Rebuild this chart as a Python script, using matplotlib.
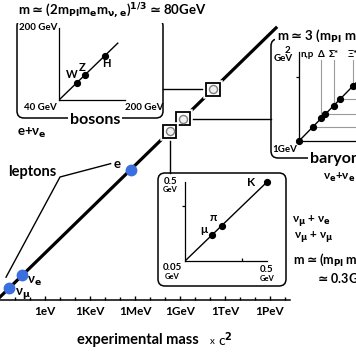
import matplotlib
matplotlib.use('Agg')
import matplotlib.pyplot as plt
from matplotlib.patches import FancyBboxPatch
from matplotlib.ticker import FixedLocator, NullLocator, NullFormatter
import matplotlib.patheffects as pe

# ---------------- data ----------------
axis_ticks_eV = [1, 1e3, 1e6, 1e9, 1e12, 1e15]
axis_tick_labels = ['1eV', '1KeV', '1MeV', '1GeV', '1TeV', '1PeV']
decade_ticks_eV = [1e-2, 1e-1, 1e1, 1e2, 1e4, 1e5, 1e7, 1e8, 1e10, 1e11, 1e13, 1e14, 1e16]
diagonal_eV = [3e-4, 3e15]
lepton_labels = ['e', r'ν$_e$', r'ν$_μ$']
lepton_mass_eV = [5.11e5, 0.03, 0.004]
group_mass_eV = [1.6e11, 1.6e9, 2.1e8]          # bosons, baryons, mesons markers
boson_labels = ['W', 'Z', 'H']
boson_mass_GeV = [80.4, 91.2, 125.0]
boson_line_GeV = [60.4, 153.0]
meson_labels = ['μ', 'π', 'K']
meson_mass_GeV = [0.1057, 0.1396, 0.494]
meson_line_GeV = [0.05, 0.494]
baryon_top_tags = ['n,p', '', 'Δ', '', 'Σ*', '', 'Ξ*']
baryon_mass_GeV = [1.0, 1.116, 1.193, 1.232, 1.318, 1.385, 1.533]
baryon_line_GeV = [1.0, 1.8]

BLUE = '#3b6fe0'
GRAY = '#9a9a9a'

plt.rcParams['font.family'] = ['Lato', 'DejaVu Sans']
plt.rcParams['font.weight'] = 'bold'
plt.rcParams['mathtext.fontset'] = 'dejavusans'
plt.rcParams['mathtext.default'] = 'bf'

W, H = 356, 364
fig = plt.figure(figsize=(W / 100, H / 100), dpi=100)
bg = fig.add_axes([0, 0, 1, 1])
bg.set_xlim(0, W)
bg.set_ylim(H, 0)
bg.axis('off')


def rect(x0, y0, x1, y1):
    return [x0 / W, 1 - y1 / H, (x1 - x0) / W, (y1 - y0) / H]


def to_px(a, x, y):
    d = a.transData.transform((x, y))
    return d[0], H - d[1]


# ---------------- main axis ----------------
ax = fig.add_axes(rect(0, 0, 290, 300))
ax.patch.set_alpha(0)
ax.set_xscale('log')
ax.set_yscale('log')
ax.set_xlim(10 ** -3, 10 ** (-3 + 290 / 15))
ax.set_ylim(10 ** -3.205, 10 ** 17.308)
for s in ['top', 'right', 'left']:
    ax.spines[s].set_visible(False)
ax.spines['bottom'].set_linewidth(1.1)
ax.yaxis.set_major_locator(NullLocator())
ax.yaxis.set_minor_locator(NullLocator())
ax.xaxis.set_major_locator(FixedLocator(axis_ticks_eV))
ax.set_xticklabels(axis_tick_labels)
ax.xaxis.set_minor_locator(FixedLocator(decade_ticks_eV))
ax.xaxis.set_minor_formatter(NullFormatter())
ax.tick_params(axis='x', which='major', direction='in', length=3, width=1,
               labelsize=8.5, pad=4)
ax.tick_params(axis='x', which='minor', direction='in', length=2.5, width=1)

ax.plot(diagonal_eV, diagonal_eV, color='black', lw=2.3, solid_capstyle='butt', zorder=2)
ax.plot(group_mass_eV, group_mass_eV, 's', ms=9.5, mfc='white', mec='black', mew=1.3,
        zorder=3, path_effects=[pe.withStroke(linewidth=4, foreground='white')])
ax.plot(group_mass_eV, group_mass_eV, 'o', ms=5.8, mfc='#f2f2f2', mec='#808080', mew=1,
        zorder=4)
ax.plot(lepton_mass_eV, lepton_mass_eV, 'o', ms=7.5, color=BLUE, zorder=5)
lep_offsets = [(-10, 4), (9, -4.5), (10, -4)]
for lab, m, off in zip(lepton_labels, lepton_mass_eV, lep_offsets):
    ax.annotate(lab, (m, m), xytext=off, textcoords='offset points',
                ha='center', va='center', fontsize=9.5, fontweight='bold')

# pixel positions of group markers
s_bos = to_px(ax, group_mass_eV[0], group_mass_eV[0])
s_bar = to_px(ax, group_mass_eV[1], group_mass_eV[1])
s_mes = to_px(ax, group_mass_eV[2], group_mass_eV[2])
e_px = to_px(ax, lepton_mass_eV[0], lepton_mass_eV[0])
nm_px = to_px(ax, lepton_mass_eV[2], lepton_mass_eV[2])

# ---------------- boxes & connectors ----------------
box_kw = dict(boxstyle='round,pad=0,rounding_size=7', fc='none', ec='black', lw=1.1)
bg.add_patch(FancyBboxPatch((17, 19), 146, 99, **box_kw))
bg.add_patch(FancyBboxPatch((271, 39), 150, 119, **box_kw))
bg.add_patch(FancyBboxPatch((158, 173), 128, 113, **box_kw))
bg.plot([163, s_bos[0] - 7], [s_bos[1], s_bos[1]], color='black', lw=1)
bg.plot([s_bar[0] + 7, 271], [s_bar[1], s_bar[1]], color='black', lw=1)
bg.plot([s_mes[0], s_mes[0]], [s_mes[1] + 7, 173], color='black', lw=1)
# leptons leader lines
bg.plot([e_px[0] - 20, 60, nm_px[0] - 3], [e_px[1] - 6, 177, nm_px[1] - 11],
        color='black', lw=1)

wb = dict(fc='white', ec='none', pad=1.5)
bg.text(18, 11, r'm$\simeq$(2m$_{Pl}$m$_{e}$m$_{ν,e}$)$^{1/3}$$\simeq$80GeV', fontsize=9.5,
        ha='left', va='center', bbox=wb)
bg.text(95, 120, 'bosons', fontsize=11.5, ha='center', va='center', bbox=wb)
bg.text(17, 133, r'e+ν$_e$', fontsize=9.5, ha='left', va='center')
bg.text(8, 172, 'leptons', fontsize=10.5, ha='left', va='center')
bg.text(277, 37, r'm$\simeq$3 (m$_{Pl}$ m$_{ν,e}$$^{2}$)$^{1/3}$$\simeq$1GeV', fontsize=9.5,
        ha='left', va='center', bbox=wb)
bg.text(310, 159, 'baryons', fontsize=11.5, ha='left', va='center', bbox=wb)
bg.text(323, 177, r'ν$_e$+ν$_e$', fontsize=8.5, ha='left', va='center')
bg.text(292, 221, r'ν$_μ$ + ν$_e$', fontsize=8.5, ha='left', va='center')
bg.text(294, 237, r'ν$_μ$ + ν$_μ$', fontsize=8.5, ha='left', va='center')
bg.text(293, 262, r'm$\simeq$(m$_{Pl}$ m$_{ν,e}$m$_{ν,μ}$)$^{1/3}$', fontsize=9,
        ha='left', va='center')
bg.text(315, 278, r'$\simeq$0.3GeV', fontsize=9, ha='left', va='center')
bg.text(77, 340, 'experimental mass', fontsize=10.5, ha='left', va='center')
bg.text(210, 342, 'x', fontsize=7, fontweight='normal', ha='left', va='center')
bg.text(218, 340, r'c$^{2}$', fontsize=10, fontweight='normal', ha='left', va='center')


def style_inset(a):
    a.patch.set_alpha(0)
    a.set_xscale('log')
    a.set_yscale('log')
    for s in ['top', 'right']:
        a.spines[s].set_visible(False)
    for s in ['left', 'bottom']:
        a.spines[s].set_linewidth(0.9)
    for axis in (a.xaxis, a.yaxis):
        axis.set_major_formatter(NullFormatter())
        axis.set_minor_formatter(NullFormatter())
        axis.set_minor_locator(NullLocator())


# ---------------- boson inset ----------------
axb = fig.add_axes(rect(59, 28, 125, 100))
style_inset(axb)
axb.set_xlim(60.4, 171.5)
axb.set_ylim(60.4, 196)
axb.xaxis.set_major_locator(NullLocator())
axb.yaxis.set_major_locator(NullLocator())
axb.plot(boson_line_GeV, boson_line_GeV, color='black', lw=1)
axb.plot(boson_mass_GeV, boson_mass_GeV, 'o', ms=4.2, color='black')
b_off = [(-4, 6), (-2, 5.5), (1, -5.5)]
for lab, m, off in zip(boson_labels, boson_mass_GeV, b_off):
    axb.annotate(lab, (m, m), xytext=off, textcoords='offset points',
                 ha='center', va='center', fontsize=8)
axb.text(-0.03, 1.0, '200 GeV', transform=axb.transAxes, fontsize=7, ha='right', va='center')
axb.text(-0.03, -0.1, '40 GeV', transform=axb.transAxes, fontsize=7, ha='right', va='center')
axb.text(1.0, -0.1, '200 GeV', transform=axb.transAxes, fontsize=7, ha='left', va='center')

# ---------------- meson inset ----------------
axm = fig.add_axes(rect(185, 182, 267, 261))
style_inset(axm)
axm.set_xlim(0.05, 0.5)
axm.set_ylim(0.05, 0.5)
axm.xaxis.set_major_locator(FixedLocator([0.25]))
axm.yaxis.set_major_locator(FixedLocator([0.25]))
axm.tick_params(axis='x', direction='in', length=2.5, width=0.9)
axm.tick_params(axis='y', direction='out', length=2.5, width=0.9)
axm.plot(meson_line_GeV, meson_line_GeV, color='black', lw=1)
axm.plot(meson_mass_GeV, meson_mass_GeV, 'o', ms=4.2, color='black', clip_on=False)
m_off = [(-6, 4), (-6, 6), (-11, 0)]
for lab, m, off in zip(meson_labels, meson_mass_GeV, m_off):
    axm.annotate(lab, (m, m), xytext=off, textcoords='offset points',
                 ha='center', va='center', fontsize=8.5)
axm.text(-0.18, 1.0, '0.5', transform=axm.transAxes, fontsize=7, ha='center', va='center')
axm.text(-0.18, 0.91, 'GeV', transform=axm.transAxes, fontsize=5.5, ha='center', va='center')
axm.text(-0.16, -0.08, '0.05', transform=axm.transAxes, fontsize=7, ha='center', va='center')
axm.text(-0.16, -0.19, 'GeV', transform=axm.transAxes, fontsize=5.5, ha='center', va='center')
axm.text(1.0, -0.11, '0.5', transform=axm.transAxes, fontsize=7, ha='center', va='center')
axm.text(1.0, -0.22, 'GeV', transform=axm.transAxes, fontsize=5.5, ha='center', va='center')

# ---------------- baryon inset ----------------
axr = fig.add_axes(rect(299, 52, W, 141))
style_inset(axr)
axr.set_xlim(1.0, 10 ** (57 / 290))
axr.set_ylim(1.0, 2.0)
axr.xaxis.set_major_locator(NullLocator())
axr.yaxis.set_major_locator(FixedLocator([1.65]))
axr.tick_params(axis='y', direction='out', length=2.5, width=0.9)
xmax = axr.get_xlim()[1]
tag_y = 10 ** ((141 - 55) / 295)      # label height (px 55 from top)
line_top = 10 ** ((141 - 60) / 295)   # guide line end (px 60 from top)
for tag, m in zip(baryon_top_tags, baryon_mass_GeV):
    if tag:
        axr.plot([m, m], [m, line_top], color=GRAY, lw=0.8, clip_on=False)
        axr.text(m if tag != 'n,p' else m * 1.008, tag_y, tag, fontsize=7,
                 ha='center' if tag != 'n,p' else 'left', va='center', clip_on=False)
    else:
        axr.plot([m, xmax], [m, m], color=GRAY, lw=0.8)
axr.plot(baryon_line_GeV, baryon_line_GeV, color='black', lw=1)
axr.plot(baryon_mass_GeV, baryon_mass_GeV, 'o', ms=4.2, color='black', clip_on=False)
axr.text(-0.2, 1.02, '2', transform=axr.transAxes, fontsize=7, ha='center', va='center')
axr.text(-0.28, 0.93, 'GeV', transform=axr.transAxes, fontsize=7, ha='center', va='center')
axr.text(-0.25, -0.1, '1GeV', transform=axr.transAxes, fontsize=7, ha='center', va='center')

fig.savefig('out.png', dpi=100)
